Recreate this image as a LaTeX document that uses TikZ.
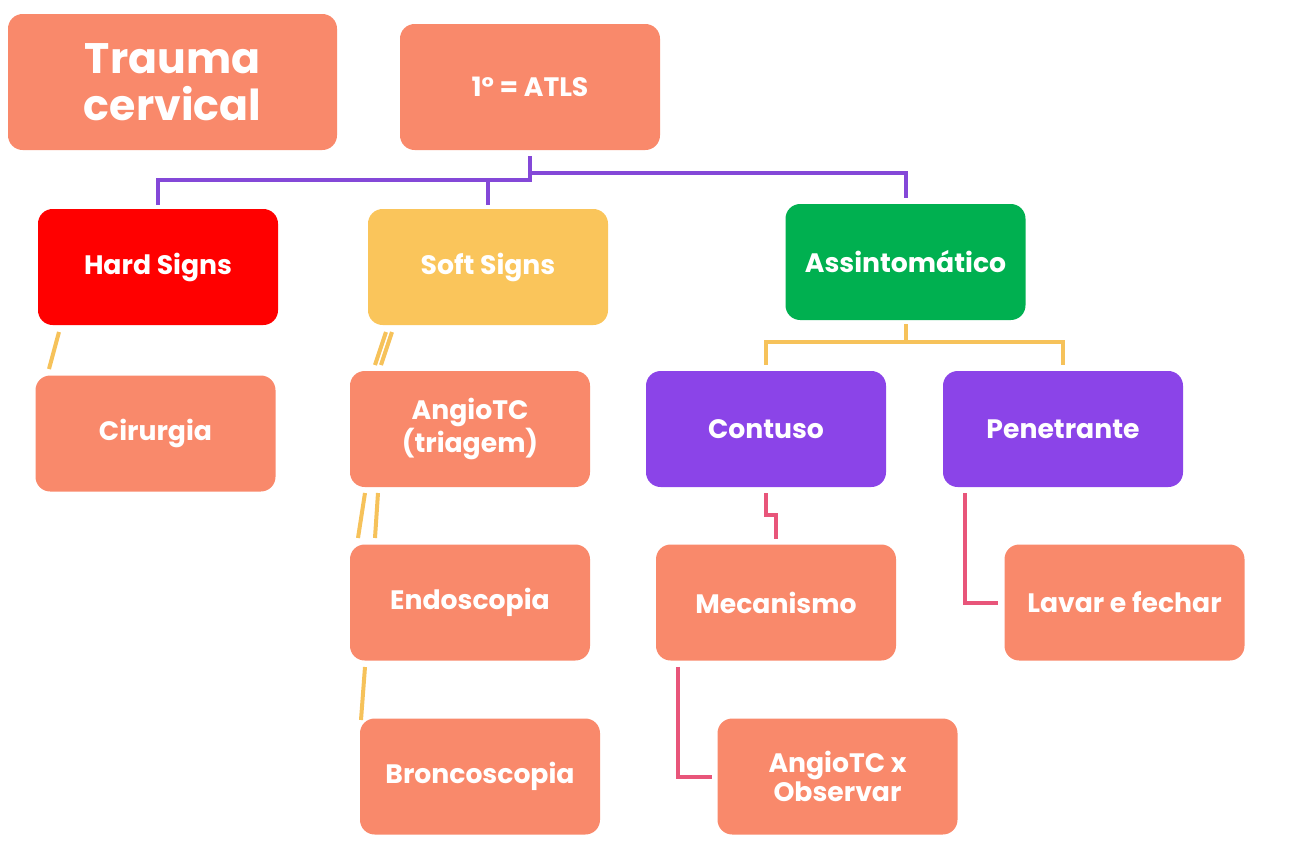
\documentclass[tikz,border=0pt]{standalone}
\usepackage{fontspec}
\setmainfont{Poppins}
\begin{document}
\begin{tikzpicture}[x=0.75pt,y=-0.75pt,
  box/.style={rounded corners=11pt, minimum width=180pt, minimum height=87pt, text=white, inner sep=0pt, align=center, font=\fontsize{20}{18.5}\selectfont\bfseries},
  purp/.style={draw=lnpurple, line width=3pt},
  yel/.style={draw=lnyellow, line width=3pt},
  pk/.style={draw=lnpink, line width=3pt}]
\definecolor{salmon}{HTML}{F9896B}
\definecolor{hred}{HTML}{FF0000}
\definecolor{syel}{HTML}{FAC55B}
\definecolor{agreen}{HTML}{00B050}
\definecolor{cpurple}{HTML}{8B44E8}
\definecolor{lnpurple}{HTML}{8448D8}
\definecolor{lnyellow}{HTML}{F6C25A}
\definecolor{lnpink}{HTML}{E8557A}
\useasboundingbox (0,0) rectangle (1293,843);
\node[box, fill=salmon, minimum width=246.75pt, minimum height=102pt, font=\fontsize{32}{35}\selectfont\bfseries] (trauma) at (172.5,82) {Trauma\\cervical};
\node[box, fill=salmon, minimum width=195pt, minimum height=94.5pt] (atls) at (530,87) {1° = ATLS};
\node[box, fill=hred] (hard) at (158,267) {Hard Signs};
\node[box, fill=syel] (soft) at (488,267) {Soft Signs};
\node[box, fill=agreen] (assint) at (905.5,262) {Assintomático};
\node[box, fill=salmon] (cir) at (155.5,433.5) {Cirurgia};
\node[box, fill=salmon] (angio) at (470,429) {AngioTC\\(triagem)};
\node[box, fill=salmon] (endo) at (470,602.5) {Endoscopia};
\node[box, fill=salmon] (bronco) at (480,776.5) {Broncoscopia};
\node[box, fill=cpurple] (contuso) at (766,429) {Contuso};
\node[box, fill=cpurple] (pen) at (1063,429) {Penetrante};
\node[box, fill=salmon] (mec) at (776,602.5) {Mecanismo};
\node[box, fill=salmon] (lavar) at (1124.5,602.5) {Lavar e fechar};
\node[box, fill=salmon] (obs) at (837.5,776.5) {AngioTC x\\Observar};
% purple connectors
\draw[purp] ([yshift=-4.5pt]atls.south) -- (atls.south |- 0,180) -| ([yshift=3pt]hard.north);
\draw[purp] (soft.north |- 0,180) -- ([yshift=3pt]soft.north);
\draw[purp] (atls.south |- 0,173) -| ([yshift=4.5pt]assint.north);
% yellow connectors
\draw[yel] ([yshift=-3pt]assint.south) -- (assint.south |- 0,342);
\draw[yel] ([yshift=4.5pt]contuso.north) |- (pen.north |- 0,342) -- ([yshift=4.5pt]pen.north);
\draw[yel] (59,332) -- (49,369);
\draw[yel] (386,332) -- (375,365);
\draw[yel] (392,332) -- (381,365);
\draw[yel] (365,493) -- (358,538);
\draw[yel] (378,493) -- (375,538);
\draw[yel] (365,667) -- (361,720);
% pink connectors
\draw[pk] ([yshift=-4.5pt]contuso.south) -- ++(0,22) -| ([yshift=4pt]mec.north);
\draw[pk] ([xshift=16.5pt,yshift=-4.5pt]mec.south west) |- ([xshift=-4pt]obs.west);
\draw[pk] ([xshift=16.5pt,yshift=-4.5pt]pen.south west) |- ([xshift=-4.5pt]lavar.west);
\end{tikzpicture}
\end{document}
